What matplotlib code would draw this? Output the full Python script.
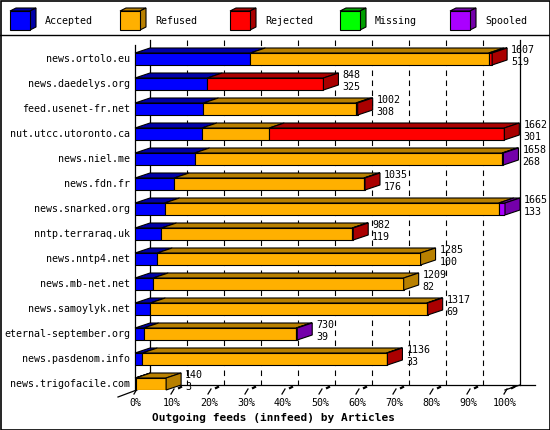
from matplotlib import pyplot as plt
from matplotlib.patches import Polygon, Rectangle
import numpy as np

hosts = ['news.ortolo.eu', 'news.daedelys.org', 'feed.usenet-fr.net', 'nut.utcc.utoronto.ca',
         'news.niel.me', 'news.fdn.fr', 'news.snarked.org', 'nntp.terraraq.uk',
         'news.nntp4.net', 'news.mb-net.net', 'news.samoylyk.net', 'eternal-september.org',
         'news.pasdenom.info', 'news.trigofacile.com']
accepted = [519, 325, 308, 301, 268, 176, 133, 119, 100, 82, 69, 39, 33, 3]
refused = [1073, 0, 686, 303, 1384, 854, 1504, 858, 1185, 1127, 1244, 686, 1099, 137]
rejected = [15, 523, 8, 1058, 0, 5, 0, 5, 0, 0, 4, 0, 4, 0]
missing = [0, 0, 0, 0, 0, 0, 0, 0, 0, 0, 0, 0, 0, 0]
spooled = [0, 0, 0, 0, 6, 0, 28, 0, 0, 0, 0, 5, 0, 0]

seriesNames = ['Accepted', 'Refused', 'Rejected', 'Missing', 'Spooled']
ticks = [0, 10, 20, 30, 40, 50, 60, 70, 80, 90, 100]
title = 'Outgoing feeds (innfeed) by Articles'

front = ['#0000ff', '#ffb000', '#ff0000', '#00ff00', '#aa00ff']
dark = ['#0000a8', '#b88000', '#aa0000', '#00a000', '#7400aa']

FONT = 'DejaVu Sans Mono'
FS = 7.2


def visualize():
    fig = plt.figure(figsize=(5.5, 4.3), dpi=100)

    # overlay in pixel units: frame, legend, title
    ax0 = fig.add_axes([0, 0, 1, 1])
    ax0.set_xlim(0, 550)
    ax0.set_ylim(430, 0)
    ax0.axis('off')
    ax0.add_patch(Rectangle((0.5, 0.5), 549, 429, fill=False, edgecolor='black', lw=1.2))
    ax0.plot([0, 550], [35, 35], color='black', lw=1)
    for k, name in enumerate(seriesNames):
        x0 = 10 + 110 * k
        ax0.add_patch(Polygon([(x0, 11), (x0 + 20, 11), (x0 + 26, 8), (x0 + 6, 8)],
                              facecolor=dark[k], edgecolor='black', lw=0.8))
        ax0.add_patch(Polygon([(x0 + 20, 11), (x0 + 26, 8), (x0 + 26, 27), (x0 + 20, 30)],
                              facecolor=dark[k], edgecolor='black', lw=0.8))
        ax0.add_patch(Rectangle((x0, 11), 20, 19, facecolor=front[k], edgecolor='black', lw=0.8))
        ax0.text(x0 + 35, 21, name, family=FONT, fontsize=FS, va='center', ha='left')
    ax0.text(274, 418, title, family=FONT, fontsize=8, weight='bold', ha='center', va='center')

    # chart area: x in percent of the biggest feed, y in rows
    ax = fig.add_axes([135 / 550, 40 / 430, 370 / 550, 350 / 430])
    ax.set_xlim(0, 100)
    ax.set_ylim(13.24, -0.76)
    ax.axis('off')
    px = 100 / 370.0
    py = 1 / 25.0
    DX = 15 * px
    DY = 5 * py
    H = 12 * py
    floor = 13.04

    # back wall
    for t in ticks[1:-1]:
        ax.plot([t + DX, t + DX], [-0.76, floor], color='black', lw=0.8, ls=(0, (5, 4)), zorder=1, clip_on=False)
    ax.plot([DX, DX], [-0.76, floor], color='black', lw=0.9, zorder=1, clip_on=False)
    ax.plot([100 + DX, 100 + DX], [-0.76, floor], color='black', lw=0.9, zorder=1, clip_on=False)
    ax.plot([DX, 400 * px], [floor, floor], color='black', lw=0.9, zorder=1, clip_on=False)
    ax.plot([0, 0], [-0.56, 13.24], color='black', lw=0.9, zorder=2, clip_on=False)
    ax.plot([100, 100 + DX], [13.24, floor], color='black', lw=0.9, zorder=1, clip_on=False)
    ax.plot([-17 * px, DX], [13.24 + 7 * py, floor], color='black', lw=0.9, zorder=1, clip_on=False)
    for t in ticks:
        ax.plot([t - 1 * px, t + 2 * px], [13.24 + 4 * py, 13.24 - 1 * py], color='black', lw=0.9, clip_on=False)
        ax.plot([t + 7 * px, t + 9 * px], [13.24 - 2 * py, 13.24 - 3 * py], color='black', lw=1.6, clip_on=False)
        ax.text(t, 13.24 + 13 * py, str(t) + '%', family=FONT, fontsize=FS, ha='center', va='center')

    data = np.array([accepted, refused, rejected, missing, spooled], dtype=float)
    totals = data.sum(axis=0)
    pct = data / totals.max() * 100

    for i in range(len(hosts)):
        z = 3 + i
        left = 0.0
        last = 0
        top = i - H / 2
        for s in range(5):
            w = pct[s, i]
            if w <= 0:
                continue
            ax.barh(i, w, left=left, height=H, color=front[s], edgecolor='black', lw=0.8, zorder=z)
            ax.add_patch(Polygon([(left, top), (left + w, top), (left + w + DX, top - DY), (left + DX, top - DY)],
                                 facecolor=dark[s], edgecolor='black', lw=0.8, zorder=z, clip_on=False))
            left += w
            last = s
        ax.add_patch(Polygon([(left, top), (left + DX, top - DY), (left + DX, top + H - DY), (left, top + H)],
                             facecolor=dark[last], edgecolor='black', lw=0.8, zorder=z, clip_on=False))

        ax.text(-5 * px, i, hosts[i], family=FONT, fontsize=FS, ha='right', va='center', clip_on=False)
        ax.text(left + 19 * px, i - 9 * py, '%d' % totals[i], family=FONT, fontsize=FS,
                ha='left', va='center', zorder=20, clip_on=False)
        ax.text(left + 19 * px, i + 3 * py, '%d' % accepted[i], family=FONT, fontsize=FS,
                ha='left', va='center', zorder=20, clip_on=False)

    plt.savefig('out.png', dpi=100)


if __name__ == '__main__':
    visualize()
